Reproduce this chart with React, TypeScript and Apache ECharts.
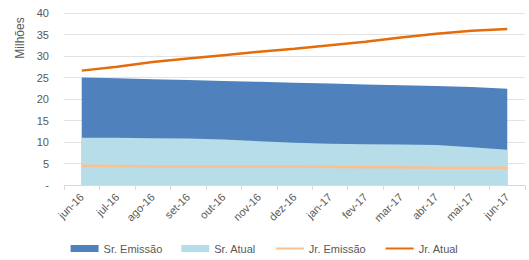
import React, { useEffect, useRef } from "react";
import * as echarts from "echarts";

const categories = ["jun-16","jul-16","ago-16","set-16","out-16","nov-16","dez-16","jan-17","fev-17","mar-17","abr-17","mai-17","jun-17"];
const srEmissao = [25.0, 24.8, 24.6, 24.4, 24.2, 24.0, 23.8, 23.6, 23.4, 23.2, 23.0, 22.8, 22.4];
const srAtual = [11.0, 11.0, 10.9, 10.8, 10.6, 10.2, 9.8, 9.6, 9.5, 9.4, 9.3, 8.8, 8.2];
const jrEmissao = [4.5, 4.4, 4.3, 4.3, 4.3, 4.3, 4.3, 4.2, 4.1, 4.1, 4.0, 4.0, 4.0];
const jrAtual = [26.6, 27.5, 28.6, 29.4, 30.2, 31.0, 31.7, 32.5, 33.3, 34.3, 35.2, 35.9, 36.3];

const FONT = "Liberation Sans";
const GREY = "#595959";

export default function App() {
  const ref = useRef<HTMLDivElement>(null);
  useEffect(() => {
    if (!ref.current) return;
    const chart = echarts.init(ref.current, null, { renderer: "svg" });
    chart.setOption({
      animation: false,
      textStyle: { fontFamily: FONT },
      grid: { left: 64, right: 4, top: 13, bottom: 75, containLabel: false },
      legend: {
        bottom: 1,
        left: "center",
        itemWidth: 28,
        itemHeight: 7,
        itemGap: 19,
        textStyle: { color: GREY, fontSize: 11, fontFamily: FONT },
        data: [
          { name: "Sr. Emissão", icon: "rect" },
          { name: "Sr. Atual", icon: "rect" },
          { name: "Jr. Emissão", itemStyle: { opacity: 0 } },
          { name: "Jr. Atual", itemStyle: { opacity: 0 } },
        ],
      },
      graphic: [
        {
          type: "text",
          x: 20,
          y: 38,
          rotation: Math.PI / 2,
          style: {
            text: "Milhões",
            fill: GREY,
            fontSize: 12,
            fontFamily: FONT,
            align: "center",
            verticalAlign: "middle",
          },
        },
      ],
      xAxis: {
        type: "category",
        data: categories,
        boundaryGap: true,
        axisLine: { show: true, lineStyle: { color: "#d9d9d9" } },
        axisTick: { show: true, length: 5, lineStyle: { color: "#d9d9d9" } },
        axisLabel: { rotate: 45, color: GREY, fontSize: 11, fontFamily: FONT, margin: 10 },
      },
      yAxis: {
        type: "value",
        min: 0,
        max: 40,
        interval: 5,
        axisLine: { show: false },
        axisTick: { show: false },
        splitLine: { lineStyle: { color: "#e3e3e3" } },
        axisLabel: {
          color: GREY,
          fontSize: 11,
          fontFamily: FONT,
          margin: 15,
          formatter: (v: number) => (v === 0 ? "-" : String(v)),
        },
      },
      series: [
        {
          name: "Sr. Emissão",
          type: "line",
          data: srEmissao,
          symbol: "none",
          lineStyle: { width: 0 },
          itemStyle: { color: "#4f81bd" },
          areaStyle: { color: "#4f81bd", opacity: 1 },
        },
        {
          name: "Sr. Atual",
          type: "line",
          data: srAtual,
          symbol: "none",
          lineStyle: { width: 0 },
          itemStyle: { color: "#b7dde8" },
          areaStyle: { color: "#b7dde8", opacity: 1 },
        },
        {
          name: "Jr. Emissão",
          type: "line",
          data: jrEmissao,
          symbol: "none",
          lineStyle: { width: 2.5, color: "#fac090" },
          itemStyle: { color: "#fac090" },
        },
        {
          name: "Jr. Atual",
          type: "line",
          data: jrAtual,
          symbol: "none",
          lineStyle: { width: 2.5, color: "#e46c0a" },
          itemStyle: { color: "#e46c0a" },
        },
      ],
    });
    return () => chart.dispose();
  }, []);
  return <div ref={ref} style={{ width: 529, height: 260, position: "absolute", left: 0, top: 0 }} />;
}
